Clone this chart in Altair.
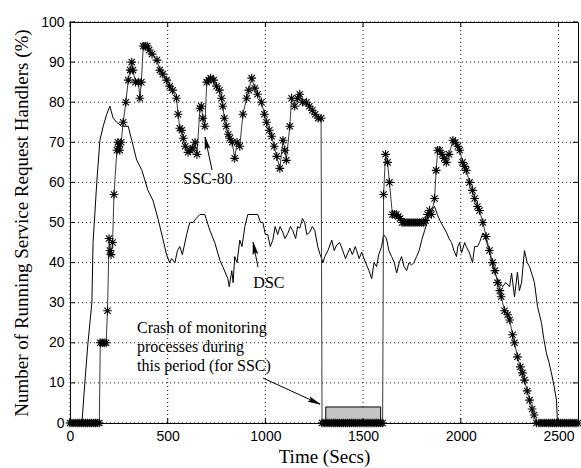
import math
import altair as alt
import pandas as pd

# ---------------- data ----------------
ssc_time = [0, 10, 20, 30, 40, 50, 60, 70, 80, 90, 100, 110, 120, 130, 140, 150,
            155, 165, 175, 185, 192, 200, 205, 210, 218, 225, 240, 245, 250, 255, 262,
            272, 286, 298, 308, 316, 322, 335, 350, 358, 365, 375, 385, 395, 405, 420,
            445, 460, 475, 495, 510, 525, 545, 553, 562, 572, 580, 590, 604, 615, 629,
            640, 650, 665, 672, 680, 690, 700, 710, 720, 735, 750, 765, 776, 782, 790,
            800, 810, 818, 830, 843, 855, 869, 885, 904, 915, 930, 946, 960, 980, 995,
            1006, 1020, 1032, 1045, 1058, 1074, 1090, 1100, 1107, 1125, 1134, 1150, 1165,
            1176, 1190, 1210, 1225, 1240, 1255, 1270, 1285,
            1290, 1300, 1310, 1320, 1330, 1340, 1350, 1360, 1370, 1380, 1390, 1400, 1410,
            1420, 1430, 1440, 1450, 1460, 1470, 1480, 1490, 1500, 1510, 1520, 1530, 1540,
            1550, 1560, 1570, 1580, 1590, 1600,
            1605, 1615, 1625, 1635, 1650, 1660, 1670, 1680, 1690, 1700, 1710, 1720, 1730,
            1740, 1750, 1760, 1770, 1780, 1790, 1800, 1810, 1820, 1830, 1840, 1850, 1866,
            1874, 1882, 1892, 1905, 1915, 1926, 1940, 1960, 1972, 1985, 1995, 2009, 2020,
            2028, 2045, 2060, 2071, 2085, 2096, 2113, 2130, 2147, 2163, 2175, 2188, 2200,
            2207, 2224, 2240, 2250, 2265, 2275, 2290, 2305, 2315, 2326, 2340, 2352, 2365,
            2375, 2387,
            2400, 2410, 2420, 2430, 2440, 2450, 2460, 2470, 2480, 2490, 2500, 2510, 2520,
            2530, 2540, 2550, 2560, 2570, 2580, 2590, 2600]
ssc_pct = [0, 0, 0, 0, 0, 0, 0, 0, 0, 0, 0, 0, 0, 0, 0, 0,
           20, 20, 20, 20, 28, 46, 43, 42, 45, 57, 68, 70, 69, 68, 70,
           75, 80, 85.5, 88, 90, 88, 85, 85, 81, 85, 94, 94, 94, 93, 92,
           90.5, 88, 87, 85.5, 84, 83, 81, 77, 73.5, 73, 71, 69, 67.5, 68, 68.6,
           70, 67, 78.5, 79, 76, 74, 85, 85.5, 86, 85.5, 84, 83, 81, 79, 76,
           74, 72, 71, 70, 66, 70, 69, 77, 81, 83, 86, 83.5, 82, 80, 77,
           75, 73, 71.5, 69, 66.5, 63.5, 70.5, 68, 65.5, 74, 81, 79, 81,
           82, 80, 80, 79, 78, 77, 76, 76,
           0, 0, 0, 0, 0, 0, 0, 0, 0, 0, 0, 0, 0,
           0, 0, 0, 0, 0, 0, 0, 0, 0, 0, 0, 0, 0,
           0, 0, 0, 0, 0, 0,
           57, 67, 65, 60, 52, 52, 52, 51.5, 51, 50, 50, 50, 50,
           50, 50, 50, 50, 50, 50, 50, 50, 50.5, 52, 53, 52, 56,
           63, 68, 68, 67, 66, 65, 67, 70.5, 70, 69, 68, 65, 64,
           63, 60, 58, 56, 54, 53, 50, 46.5, 43, 40, 38, 35, 33,
           31.5, 28, 27, 25.7, 22, 20, 16.5, 14, 12.5, 10.7, 8, 5.7, 3.5,
           2, 0,
           0, 0, 0, 0, 0, 0, 0, 0, 0, 0, 0, 0, 0,
           0, 0, 0, 0, 0, 0, 0, 0]

dsc_time = [0, 61, 77, 92, 112, 118, 137, 153, 170, 188, 204, 221, 239, 264, 298, 316,
            341, 368, 399, 424, 450, 475, 494, 510, 520, 537, 550, 562, 575, 597, 613,
            630, 645, 665, 690, 716, 741, 767, 782, 808, 815, 828, 835, 843, 855, 869,
            880, 895, 910, 961, 975, 987, 1000, 1012, 1025, 1038, 1050, 1063, 1075, 1089,
            1100, 1115, 1128, 1140, 1155, 1165, 1176, 1190, 1201, 1212, 1227, 1240, 1253,
            1268, 1280, 1288, 1295, 1304, 1320, 1340, 1352, 1365, 1380, 1396, 1410, 1432,
            1445, 1460, 1467, 1480, 1493, 1505, 1518, 1530, 1544, 1556, 1569, 1580, 1595,
            1605, 1620, 1632, 1646, 1660, 1672, 1685, 1697, 1710, 1723, 1735, 1748, 1760,
            1774, 1787, 1800, 1815, 1828, 1840, 1850, 1866, 1880, 1892, 1910, 1926, 1940,
            1953, 1965, 1978, 1985, 1994, 2004, 2020, 2028, 2045, 2060, 2071, 2085, 2096,
            2113, 2130, 2145, 2157, 2170, 2183, 2200, 2214, 2230, 2250, 2260, 2275, 2290,
            2300, 2311, 2326, 2340, 2352, 2365, 2377, 2393, 2413, 2425, 2438, 2452, 2464,
            2478, 2490, 2495, 2600]
dsc_pct = [0, 0, 10.7, 20, 30, 45, 60, 70.5, 74, 77, 79, 76, 75, 74, 74, 70.5,
           65.6, 63, 58, 55.6, 51, 46, 42, 40, 41, 40, 43, 44, 42, 47, 50,
           50, 51, 52, 52, 48, 45, 40.6, 39, 36, 34, 38, 35, 41.5, 40, 45.6,
           44, 49, 52, 52, 50, 50, 47, 47, 44, 45.6, 49, 47, 49, 47.6,
           46, 47.3, 49, 48, 46, 49, 48.6, 51, 50, 47, 47.6, 49, 48,
           44, 42, 41, 40, 41.5, 43, 45.6, 43, 44.4, 45, 43, 41, 43.6,
           42, 44, 43, 41, 42.6, 41, 39.4, 38, 36, 40, 39, 42, 44,
           47, 46, 43, 41.5, 40, 37.4, 40, 41.5, 39, 38, 40, 39.4, 40,
           41.5, 43, 45.6, 48, 50, 52, 53, 54, 52, 50.6, 49, 47.6, 46,
           45, 43, 41.5, 44, 45, 42.4, 45, 44, 42.4, 40, 44, 44, 45,
           47.4, 45.6, 43, 40.6, 38, 36.4, 35, 34, 35, 34, 37.4, 31.5, 37.6,
           33, 35, 43, 40, 39, 37, 35, 29, 25, 21, 17.5, 15, 12.5,
           9, 5.7, 0, 0]

x_ticks = [0, 500, 1000, 1500, 2000, 2500]
y_ticks = [0, 10, 20, 30, 40, 50, 60, 70, 80, 90, 100]

# crash period box (time range, height)
crash_start, crash_end, crash_top = 1309, 1590, 4

# annotations
label_text = ["SSC-80", "DSC"]
label_time = [706, 1018]
label_pct = [60.8, 34.9]

crash_lines = ["Crash of monitoring", "processes during", "this period (for SSC)"]
crash_time = [343, 343, 343]
crash_pct = [23.7, 19.0, 14.2]

arrow_tail_t = [727, 962, 988]
arrow_tail_v = [63.1, 38.9, 11.2]
arrow_head_t = [691, 937, 1280]
arrow_head_v = [71.3, 45.1, 4.7]

# ---------------- chart ----------------
W, H = 508, 401
XMAX, YMAX = 2600, 100
SERIF = "Liberation Serif"
SANS = "Liberation Sans"

ssc = pd.DataFrame({"t": ssc_time, "v": ssc_pct, "i": list(range(len(ssc_time)))})
dsc = pd.DataFrame({"t": dsc_time, "v": dsc_pct, "i": list(range(len(dsc_time)))})

xscale = alt.Scale(domain=[0, XMAX], nice=False, zero=False)
yscale = alt.Scale(domain=[0, YMAX], nice=False, zero=False)

xaxis = alt.Axis(values=x_ticks, title="Time (Secs)", grid=False, format="d",
                 ticks=False, domain=False,
                 labelFont=SANS, labelFontSize=14, labelColor="#000000", labelPadding=6,
                 labelFlush=False, titleFont=SERIF, titleFontSize=19,
                 titleFontWeight="normal", titleColor="#000000", titlePadding=4)
yaxis = alt.Axis(values=y_ticks, title="Number of Running Service Request Handlers (%)",
                 grid=False, format="d", ticks=False, domain=False,
                 labelFont=SANS, labelFontSize=14,
                 labelColor="#000000", labelPadding=6, labelFlush=False,
                 titleFont=SERIF, titleFontSize=19, titleFontWeight="normal",
                 titleColor="#000000", titlePadding=9)

X = alt.X("t:Q", scale=xscale, axis=xaxis)
Y = alt.Y("v:Q", scale=yscale, axis=yaxis)

VLINE = "M0,-1L0,1"
HLINE = "M-1,0L1,0"

# dotted grid: line-shaped symbols centred on the plot, one per tick value
gv_df = pd.DataFrame({"t": x_ticks, "v": [YMAX / 2] * len(x_ticks)})
gh_df = pd.DataFrame({"t": [XMAX / 2] * len(y_ticks), "v": y_ticks})
grid_v = alt.Chart(gv_df).mark_point(shape=VLINE, size=H * H, filled=False,
                                     stroke="#000000", strokeWidth=1, strokeDash=[1, 3],
                                     opacity=0.9).encode(x=X, y=Y)
grid_h = alt.Chart(gh_df).mark_point(shape=HLINE, size=W * W, filled=False,
                                     stroke="#000000", strokeWidth=1, strokeDash=[1, 3],
                                     opacity=0.9).encode(x=X, y=Y)

# inward MATLAB-style ticks on all four sides
TL = 5
tl_x = TL * XMAX / W
tl_y = TL * YMAX / H
tv_df = pd.DataFrame({"t": x_ticks + x_ticks,
                      "v": [tl_y / 2] * len(x_ticks) + [YMAX - tl_y / 2] * len(x_ticks)})
th_df = pd.DataFrame({"t": [tl_x / 2] * len(y_ticks) + [XMAX - tl_x / 2] * len(y_ticks),
                      "v": y_ticks + y_ticks})
ticks_v = alt.Chart(tv_df).mark_point(shape=VLINE, size=TL * TL, filled=False,
                                      stroke="#000000", strokeWidth=1,
                                      opacity=1).encode(x=X, y=Y)
ticks_h = alt.Chart(th_df).mark_point(shape=HLINE, size=TL * TL, filled=False,
                                      stroke="#000000", strokeWidth=1,
                                      opacity=1).encode(x=X, y=Y)

dsc_line = alt.Chart(dsc).mark_line(color="#000000", strokeWidth=1).encode(
    x=X, y=Y, order="i:Q")
ssc_line = alt.Chart(ssc).mark_line(color="#3a3a3a", strokeWidth=1).encode(
    x=X, y=Y, order="i:Q")

asterisk = "M-1,0L1,0M0,-1L0,1M-0.72,-0.72L0.72,0.72M-0.72,0.72L0.72,-0.72"
ssc_pts = alt.Chart(ssc).mark_point(shape=asterisk, size=76, filled=False,
                                    stroke="#000000", strokeWidth=1.1, opacity=1).encode(
    x=X, y=Y)

box_df = pd.DataFrame({"t": [crash_start], "t2": [crash_end], "v": [0], "v2": [crash_top]})
box = alt.Chart(box_df).mark_rect(fill="#c4c4c4", stroke="#000000", strokeWidth=1).encode(
    x=X, x2="t2:Q", y=Y, y2="v2:Q")

lab_df = pd.DataFrame({"t": label_time, "v": label_pct, "s": label_text})
labels = alt.Chart(lab_df).mark_text(font=SERIF, fontSize=16, align="center",
                                      baseline="middle", color="#000000").encode(
    x=X, y=Y, text="s:N")

crash_df = pd.DataFrame({"t": crash_time, "v": crash_pct, "s": crash_lines})
crash_txt = alt.Chart(crash_df).mark_text(font=SERIF, fontSize=16, align="left",
                                           baseline="middle", color="#000000").encode(
    x=X, y=Y, text="s:N")

angles = []
for tt, tv, ht, hv in zip(arrow_tail_t, arrow_tail_v, arrow_head_t, arrow_head_v):
    dx = (ht - tt) * W / XMAX
    dy_up = (hv - tv) * H / YMAX
    angles.append(math.degrees(math.atan2(dx, dy_up)) % 360)

arr_df = pd.DataFrame({"t": arrow_tail_t, "v": arrow_tail_v, "t2": arrow_head_t,
                       "v2": arrow_head_v, "a": angles})
shafts = alt.Chart(arr_df).mark_rule(color="#000000", strokeWidth=1).encode(
    x=X, x2="t2:Q", y=Y, y2="v2:Q")

head_df = pd.DataFrame({"t": arrow_head_t, "v": arrow_head_v, "a": angles})
head_shape = "M0,0L-0.5,2.4L0,2.0L0.5,2.4Z"
heads = alt.Chart(head_df).mark_point(shape=head_shape, size=100, filled=True,
                                      fill="#000000", stroke="#000000", strokeWidth=0.5,
                                      opacity=1).encode(
    x=X, y=Y, angle=alt.Angle("a:Q", scale=None))

chart = alt.layer(
    grid_v, grid_h, dsc_line, ssc_line, box, ssc_pts, labels, crash_txt, shafts, heads,
    ticks_v, ticks_h
).properties(
    width=W, height=H,
    autosize=alt.AutoSizeParams(type="none"),
    padding={"left": 70, "top": 22, "right": 3, "bottom": 45},
    background="#ffffff",
).configure_view(stroke="#000000", strokeWidth=1)

chart.save("out.html", embed_options={"renderer": "svg", "actions": False})
